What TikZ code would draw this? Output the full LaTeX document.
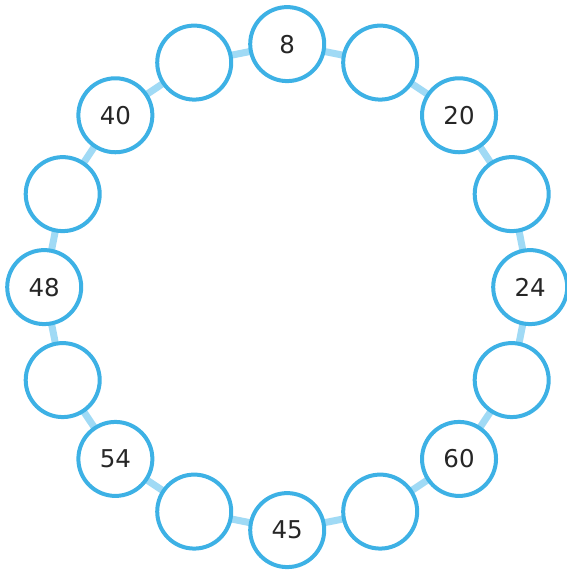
\documentclass[tikz,border=0pt]{standalone}
\usepackage{fontspec}
\setmainfont{DejaVu Sans}
\usetikzlibrary{backgrounds,calc}
\definecolor{ringblue}{HTML}{3DB1E5}
\definecolor{linkblue}{HTML}{A0DAF5}
\definecolor{numgray}{HTML}{262626}
\tikzset{
  ball/.style={circle, draw=ringblue, line width=4pt, fill=white, minimum size=74pt, inner sep=0pt,
    font=\fontsize{24.5}{28}\selectfont, text=numgray},
  link/.style={draw=linkblue, line width=7pt}
}
\begin{document}
\begin{tikzpicture}[x=1pt,y=1pt]
\useasboundingbox (0,0) rectangle (567,571);
\coordinate (c) at (287.2,283.9);
\foreach \i/\t in {0/8,1/,2/20,3/,4/24,5/,6/60,7/,8/45,9/,10/54,11/,12/48,13/,14/40,15/}{
  \node[ball] (n\i) at ($(c)+({90-\i*22.5}:243)$) {\t};
}
\begin{scope}[on background layer]
\foreach \i [evaluate=\i as \j using {int(mod(\i+1,16))}] in {0,...,15}{
  \draw[link] (n\i.center) -- (n\j.center);
}
\end{scope}
\end{tikzpicture}
\end{document}
